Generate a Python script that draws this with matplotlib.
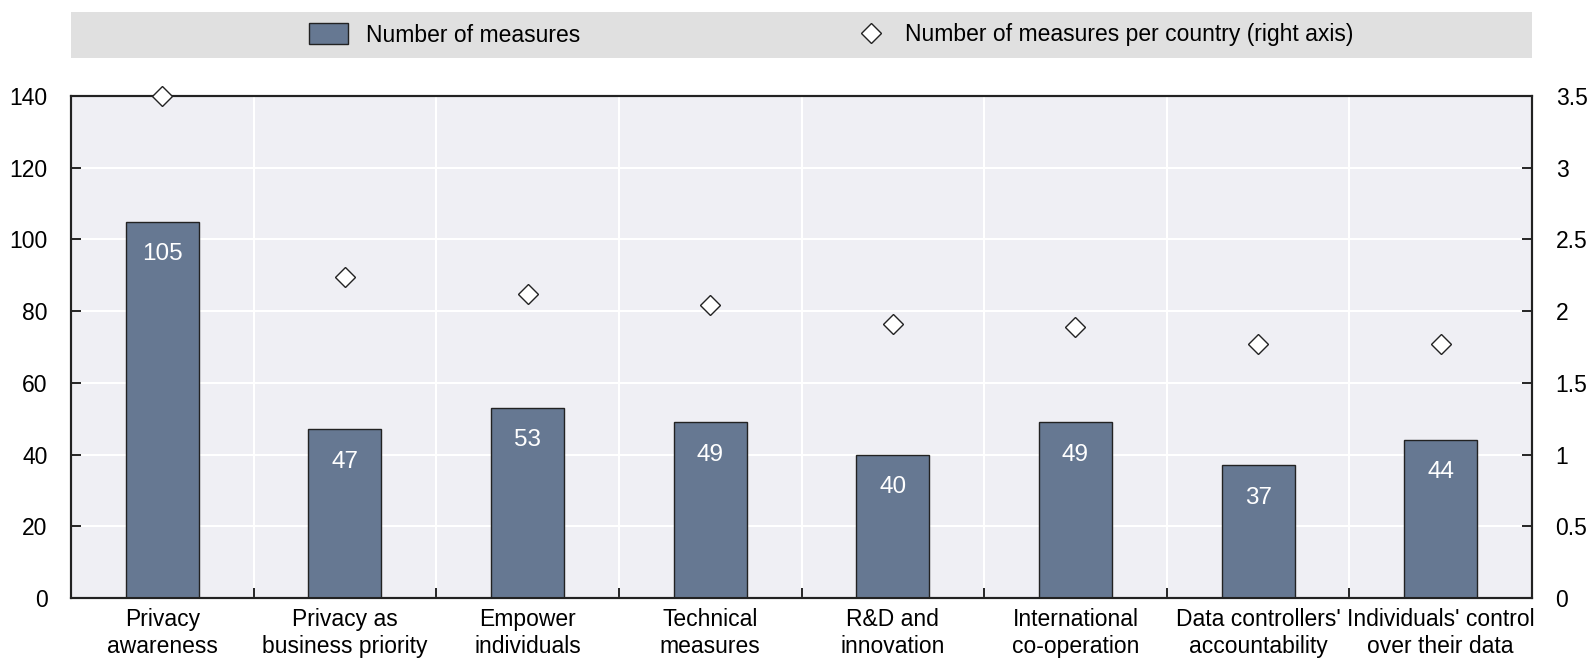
import matplotlib
matplotlib.use('Agg')
import matplotlib.pyplot as plt
from matplotlib.patches import Patch
from matplotlib.lines import Line2D
import numpy as np

plt.rcParams['font.family'] = ['Liberation Sans', 'DejaVu Sans']

categories = ["Privacy\nawareness", "Privacy as\nbusiness priority", "Empower\nindividuals",
              "Technical\nmeasures", "R&D and\ninnovation", "International\nco-operation",
              "Data controllers'\naccountability", "Individuals' control\nover their data"]
measures = [105, 47, 53, 49, 40, 49, 37, 44]
per_country = [3.5, 2.24, 2.12, 2.04, 1.91, 1.89, 1.77, 1.77]

bar_color = '#667892'
bg_color = '#EFEFF4'

fig = plt.figure(figsize=(15.91, 6.62), dpi=100)
ax = fig.add_axes([71/1591, 1 - 598/662, (1532 - 71)/1591, (598 - 96)/662])
ax.set_facecolor(bg_color)

x = np.arange(len(categories))
bars = ax.bar(x, measures, width=0.4, color=bar_color, edgecolor='#222222', linewidth=1.0, zorder=3)
for b, v in zip(bars, measures):
    ax.text(b.get_x() + b.get_width() / 2, v - 9, str(v), ha='center', va='center',
            color='white', fontsize=17.5, zorder=4)

ax.set_xlim(-0.5, len(categories) - 0.5)
ax.set_ylim(0, 140)
ax.set_yticks(range(0, 141, 20))
ax.set_xticks(np.arange(0.5, len(categories) - 0.5, 1))
ax.set_xticklabels([])
ax.set_xticks(x, minor=True)
ax.set_xticklabels(categories, minor=True, fontsize=16.5, linespacing=1.25)
ax.tick_params(axis='x', which='minor', length=0, pad=7)
ax.tick_params(axis='x', which='major', direction='in', length=7, width=1.2)
ax.tick_params(axis='y', direction='in', length=7, width=1.2, labelsize=16.5, pad=17)
ax.grid(True, which='major', color='white', linewidth=1.5, zorder=0)
ax.set_axisbelow(True)
for s in ax.spines.values():
    s.set_linewidth(1.5)
    s.set_color('#222222')

ax2 = ax.twinx()
ax2.set_ylim(0, 3.5)
ax2.set_yticks([0, 0.5, 1, 1.5, 2, 2.5, 3, 3.5])
ax2.set_yticklabels(['0', '0.5', '1', '1.5', '2', '2.5', '3', '3.5'])
ax2.tick_params(axis='y', direction='in', length=7, width=1.2, labelsize=16.5, pad=17)
ax2.plot(x, per_country, linestyle='none', marker='D', markersize=10,
         markerfacecolor='white', markeredgecolor='#222222', markeredgewidth=1.0,
         clip_on=False, zorder=5)
for s in ax2.spines.values():
    s.set_linewidth(1.5)
    s.set_color('#222222')

# legend band
lax = fig.add_axes([71/1591, 1 - 58/662, (1532 - 71)/1591, (58 - 12)/662])
lax.set_facecolor('#E0E0E0')
lax.set_xticks([])
lax.set_yticks([])
for s in lax.spines.values():
    s.set_visible(False)
bar_handle = Patch(facecolor=bar_color, edgecolor='#222222', linewidth=1.0)
dot_handle = Line2D([], [], linestyle='none', marker='D', markersize=10,
                    markerfacecolor='white', markeredgecolor='#222222', markeredgewidth=1.0)
leg1 = lax.legend([bar_handle], ['Number of measures'], loc='center left',
                  bbox_to_anchor=(0.155, 0.5), frameon=False, fontsize=16.5,
                  handlelength=1.7, handleheight=1.0, handletextpad=0.8, borderpad=0)
lax.add_artist(leg1)
lax.legend([dot_handle], ['Number of measures per country (right axis)'], loc='center left',
           bbox_to_anchor=(0.53, 0.5), frameon=False, fontsize=16.5,
           handlelength=1.2, handletextpad=0.9, borderpad=0)

fig.savefig('out.png', dpi=100)
